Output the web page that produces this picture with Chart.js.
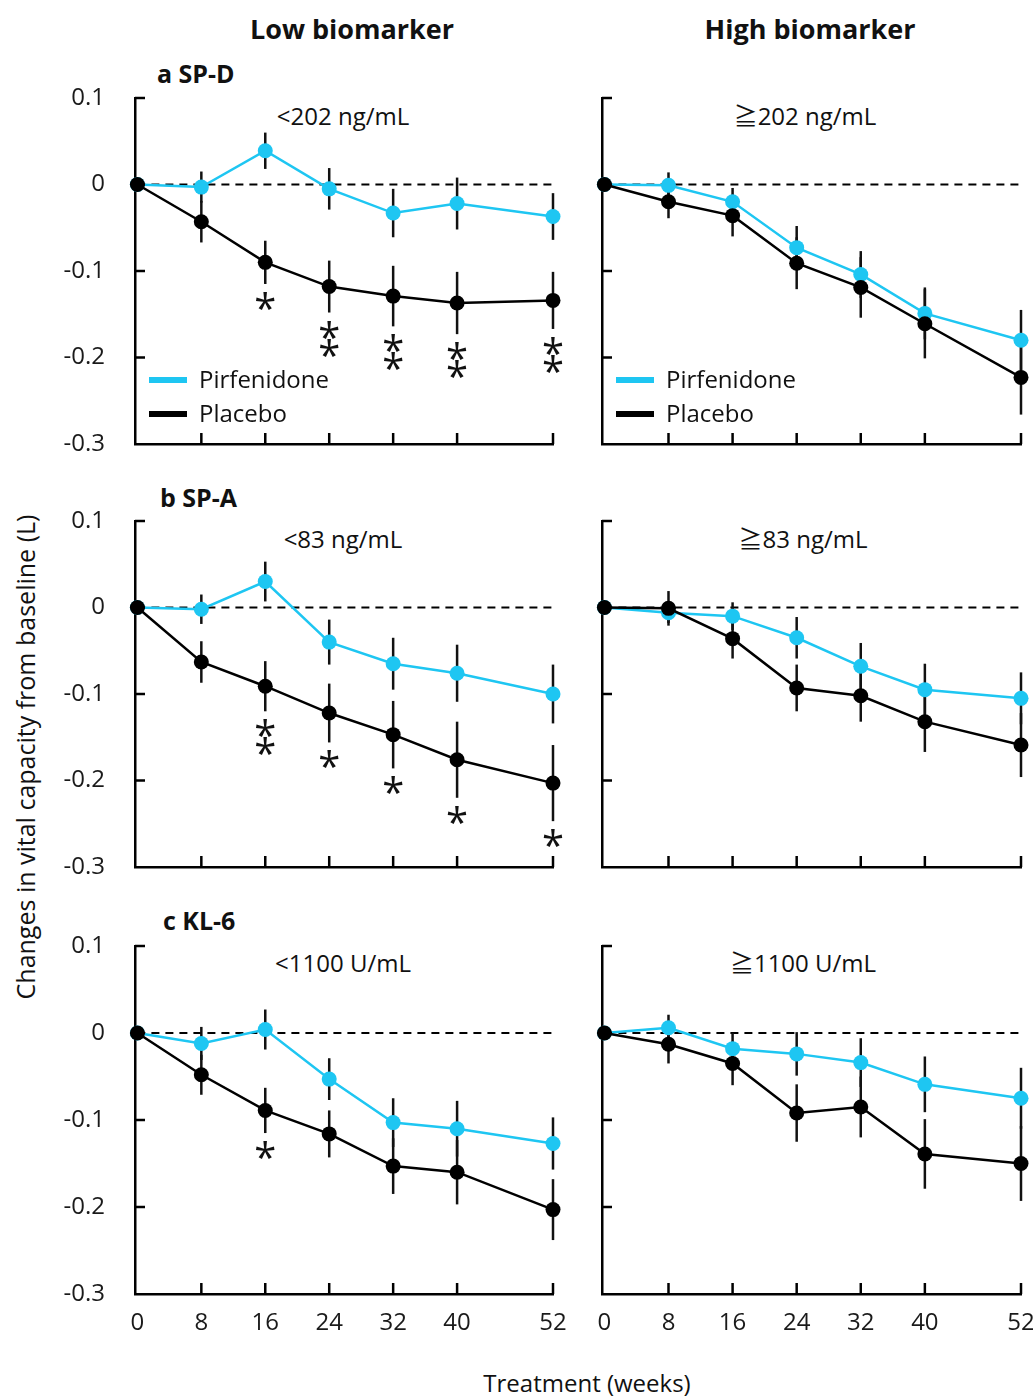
<!DOCTYPE html>
<html>
<head>
<meta charset="utf-8">
<script src="https://cdn.jsdelivr.net/npm/chart.js@4"></script>
<style>
body { margin: 0; background: #fff; }
#page { position: relative; width: 1033px; height: 1396px; overflow: hidden;
        font-family: 'Open Sans', 'Noto Sans CJK JP', sans-serif; color: #111; }
canvas { position: absolute; }
.lbl { position: absolute; white-space: nowrap; transform: translate(-50%, -50%); font-size: 24px; line-height: 1; }
.head { font-weight: 700; font-size: 27px; }
.panel { font-weight: 700; font-size: 25px; transform: translate(0, -50%); }
.ytitle { font-size: 25px; transform: translate(-50%, -50%) rotate(-90deg); }
</style>
</head>
<body>
<div id="page">
  <div class="lbl head" style="left:352px; top:28px">Low biomarker</div>
  <div class="lbl head" style="left:810px; top:28px">High biomarker</div>

  <div class="lbl panel" style="left:157px; top:73px">a SP-D</div>
  <div class="lbl panel" style="left:160px; top:497px">b SP-A</div>
  <div class="lbl panel" style="left:163px; top:920px">c KL-6</div>

  <div class="lbl" style="left:343px; top:116px">&lt;202 ng/mL</div>
  <div class="lbl" style="left:805px; top:116px">≧202 ng/mL</div>
  <div class="lbl" style="left:343px; top:539px">&lt;83 ng/mL</div>
  <div class="lbl" style="left:803px; top:539px">≧83 ng/mL</div>
  <div class="lbl" style="left:343px; top:963px">&lt;1100 U/mL</div>
  <div class="lbl" style="left:803px; top:963px">≧1100 U/mL</div>

  <div class="lbl ytitle" style="left:25px; top:757px">Changes in vital capacity from baseline (L)</div>
  <div class="lbl" style="left:587px; top:1383px">Treatment (weeks)</div>

  <canvas id="spdLow"  width="580" height="380" style="left:0;     top:83px"></canvas>
  <canvas id="spdHigh" width="473" height="380" style="left:560px; top:83px"></canvas>
  <canvas id="spaLow"  width="580" height="380" style="left:0;     top:506px"></canvas>
  <canvas id="spaHigh" width="473" height="380" style="left:560px; top:506px"></canvas>
  <canvas id="kl6Low"  width="580" height="400" style="left:0;     top:931px"></canvas>
  <canvas id="kl6High" width="473" height="400" style="left:560px; top:931px"></canvas>
</div>

<script>
// Shared axes
const weeks = [0, 8, 16, 24, 32, 40, 52];
const yTickValues = [-0.3, -0.2, -0.1, 0, 0.1];
const yTickLabels = ['-0.3', '-0.2', '-0.1', '0', '0.1'];

// a SP-D, low
const pirfSpdLow = [0, -0.003, 0.039, -0.005, -0.033, -0.022, -0.037];
const pirfSpdLowErr = [0, 0.018, 0.021, 0.024, 0.028, 0.030, 0.027];
const placSpdLow = [0, -0.043, -0.090, -0.118, -0.129, -0.137, -0.134];
const placSpdLowErr = [0, 0.024, 0.025, 0.030, 0.035, 0.036, 0.033];
const starsSpdLow = ['', '', '*', '**', '**', '**', '**'];

// a SP-D, high
const pirfSpdHigh = [0, -0.001, -0.020, -0.073, -0.104, -0.149, -0.180];
const pirfSpdHighErr = [0, 0.015, 0.016, 0.025, 0.027, 0.030, 0.035];
const placSpdHigh = [0, -0.020, -0.036, -0.091, -0.119, -0.161, -0.223];
const placSpdHighErr = [0, 0.019, 0.024, 0.030, 0.035, 0.040, 0.043];

// b SP-A, low
const pirfSpaLow = [0, -0.002, 0.030, -0.040, -0.065, -0.076, -0.100];
const pirfSpaLowErr = [0, 0.017, 0.023, 0.026, 0.030, 0.033, 0.034];
const placSpaLow = [0, -0.063, -0.091, -0.122, -0.147, -0.176, -0.203];
const placSpaLowErr = [0, 0.024, 0.029, 0.034, 0.039, 0.044, 0.044];
const starsSpaLow = ['', '', '**', '*', '*', '*', '*'];

// b SP-A, high
const pirfSpaHigh = [0, -0.006, -0.010, -0.035, -0.068, -0.095, -0.105];
const pirfSpaHighErr = [0, 0.012, 0.016, 0.024, 0.027, 0.030, 0.030];
const placSpaHigh = [0, -0.001, -0.036, -0.093, -0.102, -0.132, -0.159];
const placSpaHighErr = [0, 0.020, 0.023, 0.027, 0.030, 0.035, 0.037];

// c KL-6, low
const pirfKl6Low = [0, -0.012, 0.004, -0.053, -0.103, -0.110, -0.127];
const pirfKl6LowErr = [0, 0.019, 0.023, 0.024, 0.028, 0.032, 0.030];
const placKl6Low = [0, -0.048, -0.089, -0.116, -0.153, -0.160, -0.203];
const placKl6LowErr = [0, 0.023, 0.026, 0.027, 0.032, 0.037, 0.035];
const starsKl6Low = ['', '', '*', '', '', '', ''];

// c KL-6, high
const pirfKl6High = [0, 0.006, -0.018, -0.024, -0.034, -0.059, -0.075];
const pirfKl6HighErr = [0, 0.015, 0.018, 0.025, 0.028, 0.032, 0.035];
const placKl6High = [0, -0.013, -0.035, -0.092, -0.085, -0.139, -0.150];
const placKl6HighErr = [0, 0.022, 0.025, 0.033, 0.035, 0.040, 0.043];

const CYAN = '#1ec6f2';
const INK = '#111';
const FONT = "'Open Sans', 'Noto Sans CJK JP', sans-serif";

// Error bars, zero line, inward ticks, stars and legend
function panelPlugin(cfg) {
    return {
        id: 'panelExtras',
        beforeDatasetsDraw(chart) {
            const ctx = chart.ctx, xs = chart.scales.x, ys = chart.scales.y, a = chart.chartArea;
            ctx.save();
            const y0 = ys.getPixelForValue(0);
            ctx.strokeStyle = '#000';
            ctx.lineWidth = 2;
            ctx.setLineDash([8, 6]);
            ctx.beginPath();
            ctx.moveTo(xs.getPixelForValue(0), y0);
            ctx.lineTo(a.right + 3, y0);
            ctx.stroke();
            ctx.setLineDash([]);

            ctx.strokeStyle = INK;
            ctx.lineWidth = 2.5;
            chart.data.datasets.forEach((ds, d) => {
                cfg.errors[d].forEach((e, i) => {
                    if (!e) return;
                    const px = xs.getPixelForValue(weeks[i]);
                    const v = ds.data[i].y;
                    ctx.beginPath();
                    ctx.moveTo(px, ys.getPixelForValue(v + e));
                    ctx.lineTo(px, ys.getPixelForValue(v - e));
                    ctx.stroke();
                });
            });
            ctx.restore();
        },
        afterDraw(chart) {
            const ctx = chart.ctx, xs = chart.scales.x, ys = chart.scales.y, a = chart.chartArea;
            ctx.save();
            ctx.strokeStyle = '#000';
            ctx.lineWidth = 2.5;
            // inward tick marks
            yTickValues.forEach(v => {
                if (v === yTickValues[0]) return;
                const py = ys.getPixelForValue(v);
                ctx.beginPath();
                ctx.moveTo(a.left, py);
                ctx.lineTo(a.left + 10, py);
                ctx.stroke();
            });
            weeks.forEach(w => {
                if (w === 0) return;
                const px = xs.getPixelForValue(w);
                ctx.beginPath();
                ctx.moveTo(px, a.bottom);
                ctx.lineTo(px, a.bottom - 11);
                ctx.stroke();
            });

            // significance stars under placebo error bars
            if (cfg.stars) {
                const plac = chart.data.datasets[1];
                ctx.fillStyle = INK;
                ctx.font = '40px ' + FONT;
                ctx.textAlign = 'center';
                ctx.textBaseline = 'alphabetic';
                const m = ctx.measureText('*');
                const shift = (m.actualBoundingBoxAscent - m.actualBoundingBoxDescent) / 2;
                cfg.stars.forEach((s, i) => {
                    if (!s) return;
                    const px = xs.getPixelForValue(weeks[i]);
                    const base = ys.getPixelForValue(plac.data[i].y - cfg.errors[1][i]);
                    for (let k = 0; k < s.length; k++) {
                        ctx.fillText('*', px, base + 17 + k * 18 + shift);
                    }
                });
            }

            // legend
            if (cfg.legend) {
                chart.data.datasets.forEach((ds, d) => {
                    const ly = a.top + 282 + d * 34;
                    ctx.strokeStyle = ds.borderColor;
                    ctx.lineWidth = 6;
                    ctx.beginPath();
                    ctx.moveTo(a.left + 14, ly);
                    ctx.lineTo(a.left + 52, ly);
                    ctx.stroke();
                    ctx.fillStyle = INK;
                    ctx.font = '24px ' + FONT;
                    ctx.textAlign = 'left';
                    ctx.textBaseline = 'middle';
                    ctx.fillText(ds.label, a.left + 64, ly + 1);
                });
            }
            ctx.restore();
        }
    };
}

function makePanel(id, pirf, pirfErr, plac, placErr, opts) {
    const left = opts.left;
    new Chart(document.getElementById(id), {
        type: 'line',
        data: {
            datasets: [
                {
                    label: 'Pirfenidone',
                    data: weeks.map((w, i) => ({ x: w, y: pirf[i] })),
                    borderColor: CYAN,
                    backgroundColor: CYAN,
                    pointBackgroundColor: CYAN,
                    borderWidth: 2.5,
                    pointRadius: 7.5,
                    pointBorderWidth: 0,
                    order: 1,
                    clip: false
                },
                {
                    label: 'Placebo',
                    data: weeks.map((w, i) => ({ x: w, y: plac[i] })),
                    borderColor: '#000',
                    backgroundColor: '#000',
                    pointBackgroundColor: '#000',
                    borderWidth: 2.5,
                    pointRadius: 7.5,
                    pointBorderWidth: 0,
                    order: 0,
                    clip: false
                }
            ]
        },
        options: {
            responsive: false,
            animation: false,
            devicePixelRatio: 1,
            events: [],
            layout: { autoPadding: false, padding: { top: 15, right: opts.right, bottom: 0, left: 0 } },
            plugins: { legend: { display: false }, tooltip: { enabled: false } },
            scales: {
                x: {
                    type: 'linear',
                    min: -0.3,
                    max: 52,
                    afterBuildTicks: (scale) => { scale.ticks = weeks.map(v => ({ value: v })); },
                    afterFit: (scale) => {
                        scale.height = opts.xHeight;
                        scale.paddingLeft = 0;
                        scale.paddingRight = 0;
                    },
                    grid: { display: false, drawTicks: false },
                    border: { display: true, color: '#000', width: 2.5 },
                    ticks: {
                        display: opts.xLabels,
                        autoSkip: false,
                        maxRotation: 0,
                        padding: 15,
                        color: '#1a1a1a',
                        font: { family: FONT, size: 24 },
                        callback: (v) => String(v)
                    }
                },
                y: {
                    type: 'linear',
                    min: -0.3,
                    max: 0.1,
                    afterBuildTicks: (scale) => { scale.ticks = yTickValues.map(v => ({ value: v })); },
                    afterFit: (scale) => {
                        scale.width = left;
                        scale.paddingTop = 0;
                        scale.paddingBottom = 0;
                    },
                    grid: { display: false, drawTicks: false },
                    border: { display: true, color: '#000', width: 2.5 },
                    ticks: {
                        display: opts.yLabels,
                        autoSkip: false,
                        padding: 30,
                        color: '#1a1a1a',
                        font: { family: FONT, size: 24 },
                        callback: (v, i) => yTickLabels[i]
                    }
                }
            }
        },
        plugins: [panelPlugin({ errors: [pirfErr, placErr], stars: opts.stars, legend: opts.legend })]
    });
}

const leftCol = { left: 135, right: 27, yLabels: true };
const rightCol = { left: 42, right: 12, yLabels: false };

makePanel('spdLow', pirfSpdLow, pirfSpdLowErr, placSpdLow, placSpdLowErr,
    Object.assign({}, leftCol, { xHeight: 19, xLabels: false, stars: starsSpdLow, legend: true }));
makePanel('spdHigh', pirfSpdHigh, pirfSpdHighErr, placSpdHigh, placSpdHighErr,
    Object.assign({}, rightCol, { xHeight: 19, xLabels: false, legend: true }));
makePanel('spaLow', pirfSpaLow, pirfSpaLowErr, placSpaLow, placSpaLowErr,
    Object.assign({}, leftCol, { xHeight: 19, xLabels: false, stars: starsSpaLow }));
makePanel('spaHigh', pirfSpaHigh, pirfSpaHighErr, placSpaHigh, placSpaHighErr,
    Object.assign({}, rightCol, { xHeight: 19, xLabels: false }));
makePanel('kl6Low', pirfKl6Low, pirfKl6LowErr, placKl6Low, placKl6LowErr,
    Object.assign({}, leftCol, { xHeight: 37, xLabels: true, stars: starsKl6Low }));
makePanel('kl6High', pirfKl6High, pirfKl6HighErr, placKl6High, placKl6HighErr,
    Object.assign({}, rightCol, { xHeight: 37, xLabels: true }));
</script>
</body>
</html>
